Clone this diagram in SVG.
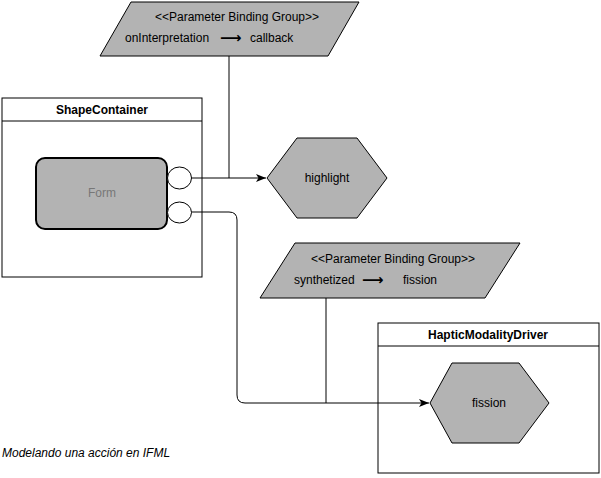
<svg xmlns="http://www.w3.org/2000/svg" width="601" height="478" viewBox="0 0 601 478">
<style>
text{font-family:"Liberation Sans",Arial,sans-serif;font-size:12px;fill:#000}
.c{text-anchor:middle}
.b{font-weight:bold}
.shape{fill:#b3b3b3;stroke:#000;stroke-width:1}
.box{fill:#fff;stroke:#000;stroke-width:1}
.edge{fill:none;stroke:#000;stroke-width:1}
.arr{font-family:"DejaVu Sans",sans-serif;font-size:15px;font-weight:bold}
</style>
<defs>
<marker id="ah" viewBox="0 0 10 10" refX="10" refY="5" markerWidth="10" markerHeight="10" markerUnits="userSpaceOnUse" orient="auto">
<path d="M0,1 L10,5 L0,9 L2.5,5 Z" fill="#000"/>
</marker>
</defs>
<rect width="601" height="478" fill="#fff"/>
<g id="pbg1">
<polygon class="shape" points="100,56 131,2 359,2 328,56"/>
<text class="c" x="237" y="21">&lt;&lt;Parameter Binding Group&gt;&gt;</text>
<text x="125" y="42">onInterpretation</text>
<text class="arr" x="220" y="43">⟶</text>
<text x="250" y="42">callback</text>
</g>
<g id="shapeContainer">
<rect class="box" x="2" y="98" width="200" height="179"/>
<line class="edge" x1="2" y1="121" x2="202" y2="121"/>
<text class="c b" x="102" y="114">ShapeContainer</text>
</g>
<g id="form">
<rect x="36" y="158" width="131" height="71" rx="9" fill="#b3b3b3" stroke="#000" stroke-width="2"/>
<text class="c" x="102" y="197" style="fill:#777">Form</text>
</g>
<g id="port1">
<ellipse cx="179.5" cy="178" rx="12" ry="11" fill="#fff" stroke="#000"/>
</g>
<g id="port2">
<ellipse cx="179.5" cy="212.5" rx="12" ry="10.5" fill="#fff" stroke="#000"/>
</g>
<g id="pbg2">
<polygon class="shape" points="260,298 295,243 520,243 485,298"/>
<text class="c" x="393" y="263">&lt;&lt;Parameter Binding Group&gt;&gt;</text>
<text x="294" y="284">synthetized</text>
<text class="arr" x="362" y="285">⟶</text>
<text x="403" y="284">fission</text>
</g>
<g id="hapticModalityDriver">
<rect class="box" x="378" y="323" width="221" height="150"/>
<line class="edge" x1="378" y1="346" x2="599" y2="346"/>
<text class="c b" x="488" y="339">HapticModalityDriver</text>
</g>
<g id="connectors">
<path class="edge" d="M229,56 V178"/>
<path class="edge" d="M191.5,178 H266" marker-end="url(#ah)"/>
<path class="edge" d="M191.5,212 H229 Q237,212 237,220 V395 Q237,403 245,403 H429" marker-end="url(#ah)"/>
<path class="edge" d="M326,298 V403"/>
</g>
<g id="highlight">
<polygon class="shape" points="267,178 297,138 357,138 387,178 357,218 297,218"/>
<text class="c" x="327" y="182">highlight</text>
</g>
<g id="fission">
<polygon class="shape" points="430,403 452,363 519,363 549,403 519,443 452,443"/>
<text class="c" x="489" y="407">fission</text>
</g>
<text x="2" y="457" style="font-style:italic">Modelando una acción en IFML</text>
</svg>
